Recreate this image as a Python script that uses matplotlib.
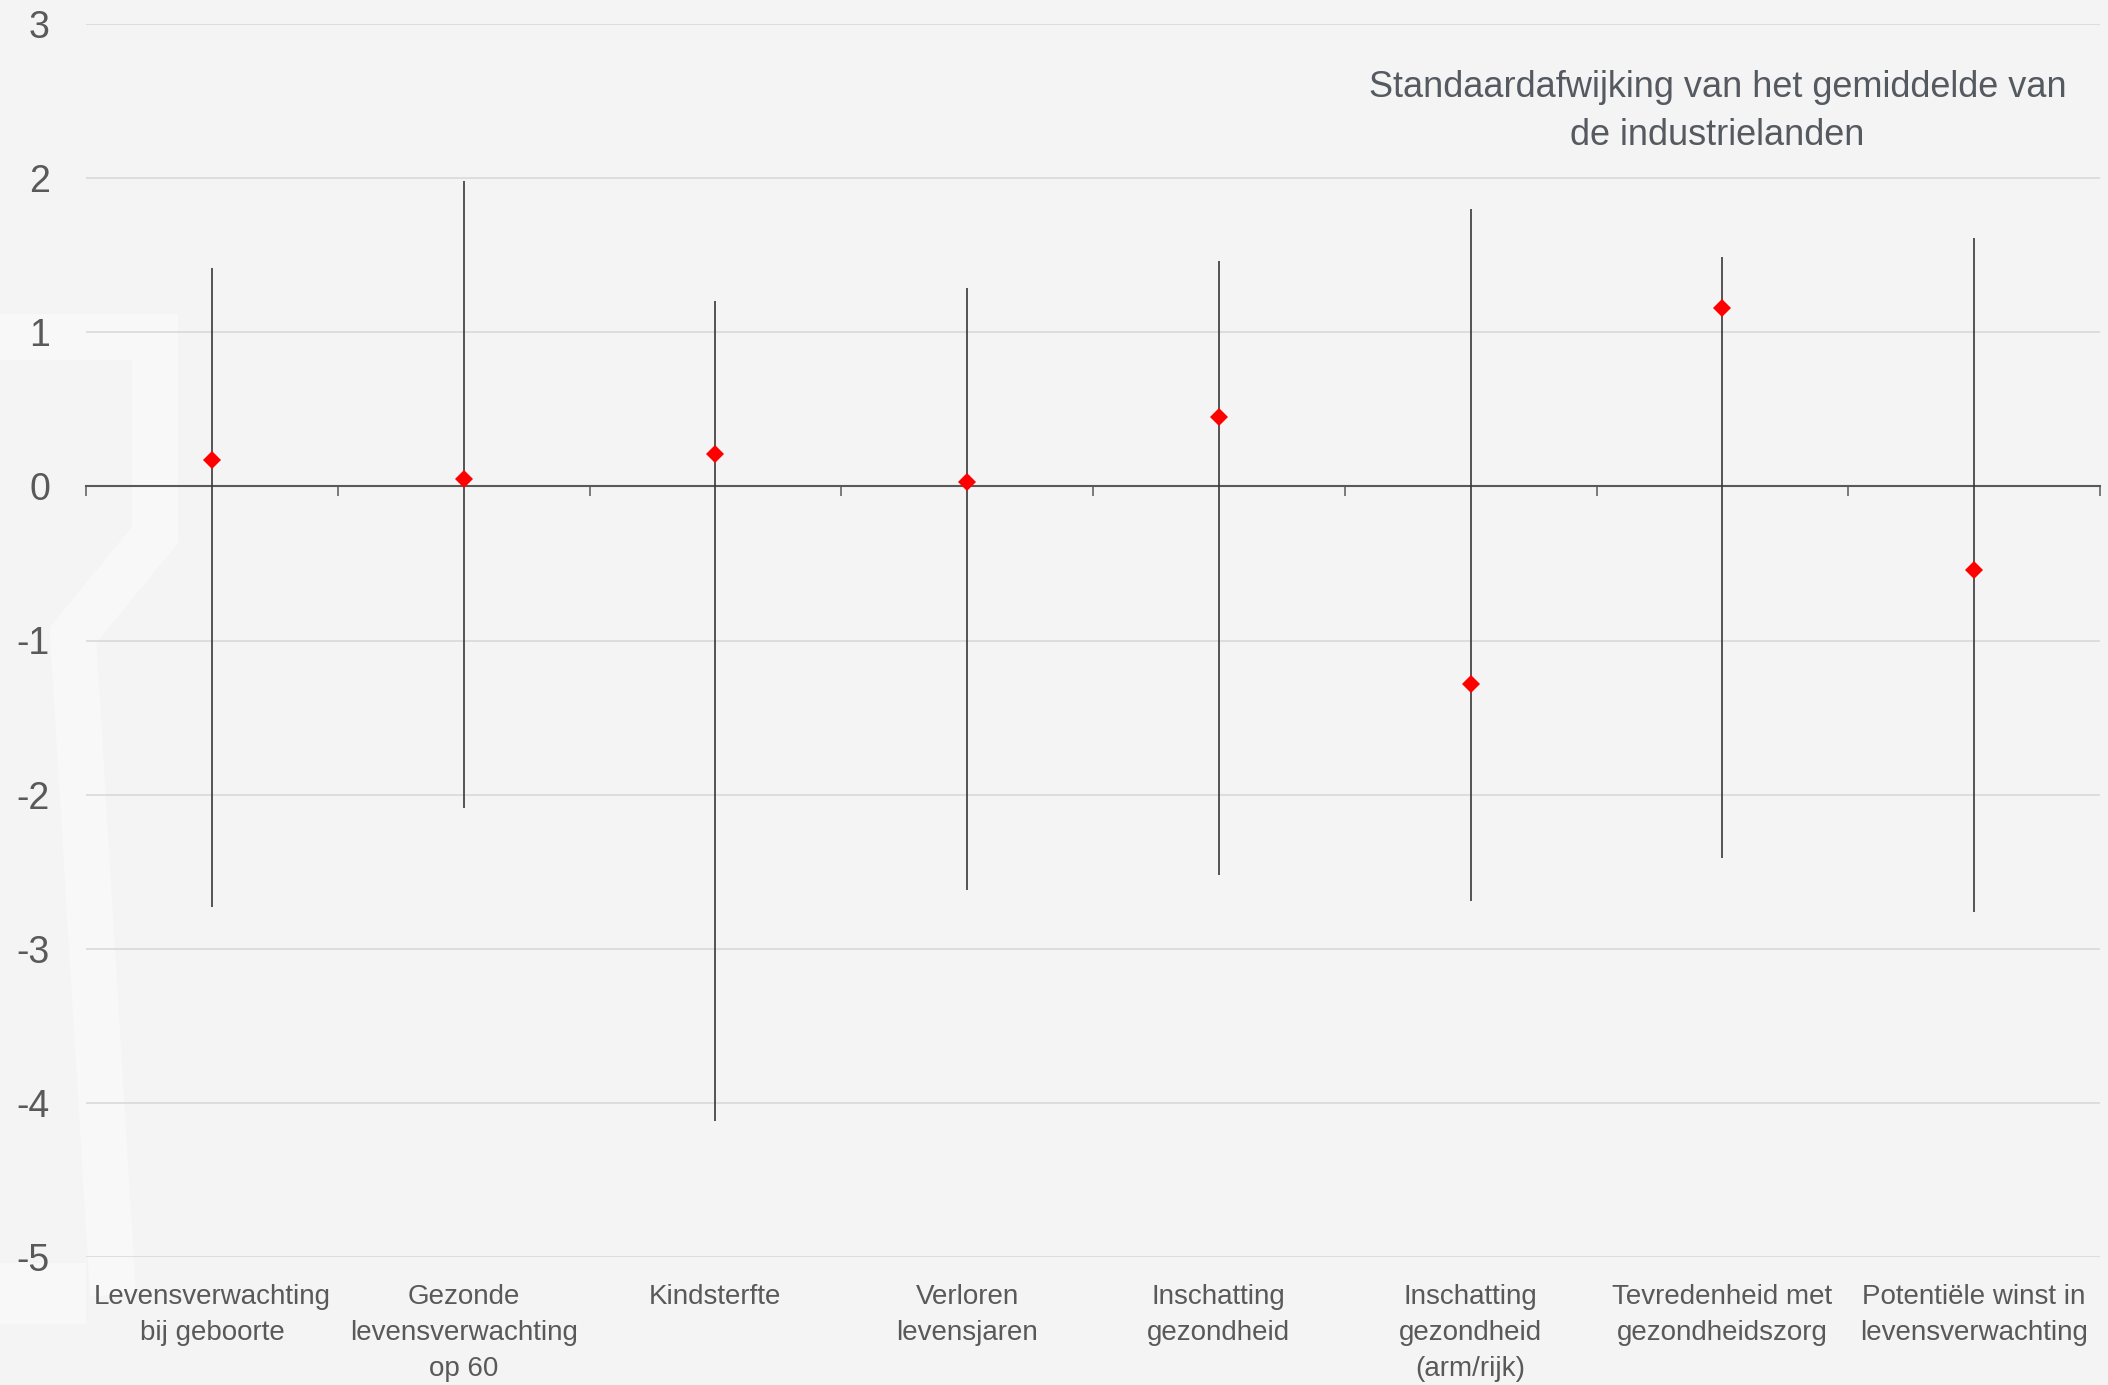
import matplotlib
matplotlib.use("Agg")
import matplotlib.pyplot as plt
from matplotlib.lines import Line2D
from matplotlib.patches import Rectangle
import numpy as np

# data
categories = [
    "Levensverwachting\nbij geboorte",
    "Gezonde\nlevensverwachting\nop 60",
    "Kindsterfte",
    "Verloren\nlevensjaren",
    "Inschatting\ngezondheid",
    "Inschatting\ngezondheid\n(arm/rijk)",
    "Tevredenheid met\ngezondheidszorg",
    "Potentiële winst in\nlevensverwachting",
]
highs = [1.42, 1.98, 1.20, 1.29, 1.46, 1.80, 1.49, 1.61]
lows = [-2.73, -2.09, -4.12, -2.62, -2.52, -2.69, -2.41, -2.76]
values = [0.17, 0.05, 0.21, 0.03, 0.45, -1.28, 1.16, -0.54]
y_ticks = [3, 2, 1, 0, -1, -2, -3, -4, -5]
title = "Standaardafwijking van het gemiddelde van\nde industrielanden"

plt.rcParams["font.family"] = ["Liberation Sans", "DejaVu Sans"]
plt.rcParams["axes.unicode_minus"] = False

W, H = 2108, 1385
BG = "#f4f4f4"
fig = plt.figure(figsize=(W / 100, H / 100), dpi=100, facecolor=BG)


def px(x, y):
    return x / W, 1 - y / H


# faint background logo
logo = [(-2, 438), (-2, 337), (155, 337), (155, 535), (73, 635), (113, 1295)]
lx, ly = zip(*[px(x, y) for x, y in logo])
fig.add_artist(Line2D(lx, ly, transform=fig.transFigure, color="white", alpha=0.4,
                      lw=33, solid_capstyle="butt", solid_joinstyle="miter", zorder=0))
fig.add_artist(Rectangle(px(0, 1324), 86 / W, 61 / H, transform=fig.transFigure,
                         color="white", alpha=0.4, lw=0, zorder=0))

left, right = 86 / W, 2100 / W
bottom, top = 1 - 1257 / H, 1 - 24 / H
ax = fig.add_axes([left, bottom, right - left, top - bottom])
ax.set_facecolor("none")

x = np.arange(len(categories))
ax.set_xlim(-0.5, len(categories) - 0.5)
ax.set_ylim(-5, 3)

ax.set_yticks(y_ticks)
ax.set_yticklabels([str(t) for t in y_ticks])
ax.tick_params(axis="y", length=0, pad=26, labelsize=27, labelcolor="#595959")
ax.grid(axis="y", color="#d9d9d9", lw=1.2, zorder=1)
ax.set_axisbelow(True)

for s in ["top", "right", "left"]:
    ax.spines[s].set_visible(False)
ax.spines["bottom"].set_position(("data", 0))
ax.spines["bottom"].set_color("#595959")
ax.spines["bottom"].set_linewidth(1.5)
ax.spines["bottom"].set_zorder(2)
ax.set_xticks(np.arange(len(categories) + 1) - 0.5)
ax.set_xticklabels([])
ax.tick_params(axis="x", direction="out", length=7, width=1.1, color="#595959")

ax.vlines(x, lows, highs, color="#383838", lw=1.2, zorder=3)
ax.plot(x, values, linestyle="none", marker="D", ms=9.5, color="#ff0000",
        mec="#ff0000", mew=0, zorder=4)

for xi, lab in zip(x, categories):
    ax.annotate(lab, (xi, -5), xytext=(0, -19.5), textcoords="offset points",
                ha="center", va="top", fontsize=20, color="#595959",
                linespacing=1.5, annotation_clip=False)

ax.text(0.81, 0.929, title, transform=ax.transAxes, ha="center", va="center",
        fontsize=26, color="#555a60", linespacing=1.45)

fig.savefig("out.png", dpi=100, facecolor=BG)
